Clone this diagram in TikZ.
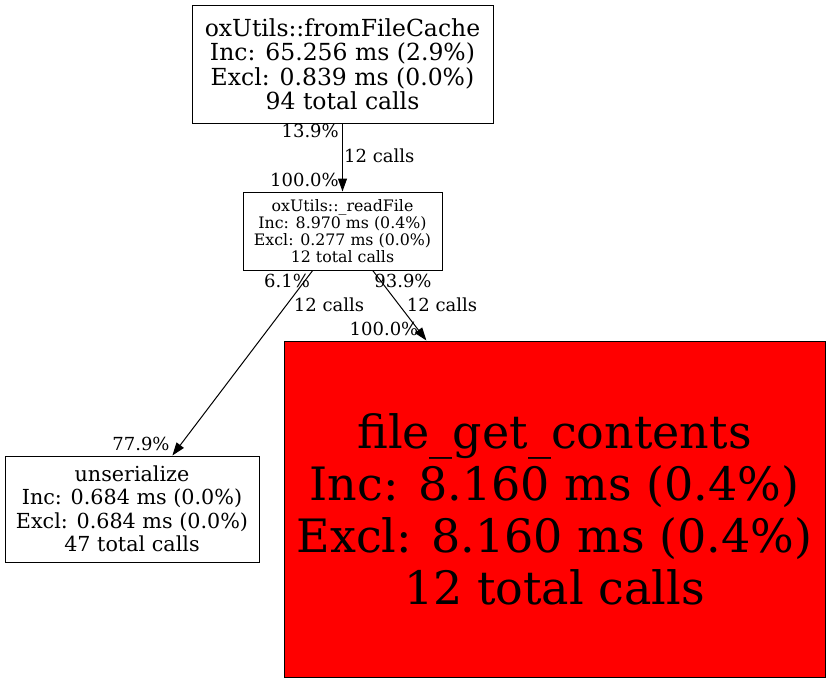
\documentclass[tikz,border=0pt]{standalone}
\usepackage{fontspec}
\setmainfont{DejaVu Serif}
\usetikzlibrary{positioning, arrows.meta}
\tikzset{
    func/.style={rectangle, draw=black, fill=white, line width=1pt, inner sep=0pt, align=center},
    hfunc/.style={rectangle, draw=black, fill=red, line width=1pt, inner sep=0pt, align=center},
    pct/.style={inner sep=0pt, font=\fontsize{18}{20}\selectfont},
    call/.style={-{Triangle[length=13pt,width=9pt]}, line width=1pt},
}
\begin{document}
\begin{tikzpicture}[x=1pt, y=-1pt]
        \useasboundingbox (0,0) rectangle (831,683);
        \node [func, minimum width=301pt, minimum height=118pt, font=\fontsize{23.5}{24.5}\selectfont] (cache) at (342.5,64) {oxUtils::fromFileCache\\Inc: 65.256 ms (2.9\%)\\Excl: 0.839 ms (0.0\%)\\94 total calls};
        \node [func, minimum width=199pt, minimum height=78pt, font=\fontsize{15.8}{17}\selectfont] (read) at (342.5,231) {oxUtils::\_readFile\\Inc: 8.970 ms (0.4\%)\\Excl: 0.277 ms (0.0\%)\\12 total calls};
        \node [func, minimum width=254pt, minimum height=106pt, font=\fontsize{20.7}{23.5}\selectfont] (unser) at (132,509) {unserialize\\Inc: 0.684 ms (0.0\%)\\Excl: 0.684 ms (0.0\%)\\47 total calls};
        \node [hfunc, minimum width=541pt, minimum height=336pt, font=\fontsize{46}{52}\selectfont] (fgc) at (554.5,509) {file\_get\_contents\\Inc: 8.160 ms (0.4\%)\\Excl: 8.160 ms (0.4\%)\\12 total calls};
        \draw[call] (cache) -- (read);
        \draw[call] (read) -- (unser);
        \draw[call] (read) -- (fgc);
        % edge labels
        \node [pct, anchor=east] (p1) at (339,131) {13.9\%};
        \node [pct, anchor=west] (c1) at (344,156) {12 calls};
        \node [pct, anchor=east] (p2) at (339,180) {100.0\%};
        \node [pct] (p3) at (287,281) {6.1\%};
        \node [pct] (c2) at (329,305) {12 calls};
        \node [pct] (p4) at (141,444) {77.9\%};
        \node [pct] (p5) at (403,281) {93.9\%};
        \node [pct] (c3) at (442,305) {12 calls};
        \node [pct] (p6) at (384,329) {100.0\%};
    \end{tikzpicture}
\end{document}
